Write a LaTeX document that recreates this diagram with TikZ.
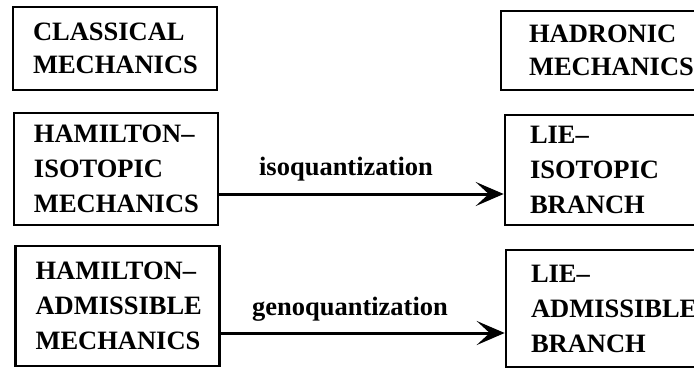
\documentclass[tikz,border=0pt]{standalone}
\usepackage{fontspec}
\setmainfont{Liberation Serif}
\usetikzlibrary{arrows.meta,calc}
\tikzset{
  box/.style={draw, line width=2.6pt, rectangle, align=left, inner ysep=0pt,
    font=\fontsize{26.5}{35}\selectfont\bfseries},
  lbox/.style={box, inner xsep=20pt, text width=164pt},
  rbox/.style={box, inner xsep=25pt, text width=170pt},
  lbl/.style={font=\fontsize{26.5}{32}\selectfont\bfseries, inner sep=0pt, anchor=base},
  arr/.style={line width=3pt, -{Stealth[length=28pt,width=24pt,inset=13pt]}}
}
\begin{document}
\begin{tikzpicture}[x=1pt,y=-1pt]
\useasboundingbox (0,0) rectangle (694,368);
\clip (0,0) rectangle (694,368);
% left column
\node[lbox, minimum height=83pt, font=\fontsize{26.5}{33}\selectfont\bfseries] (cm) at (115,48.5) {CLASSICAL\\MECHANICS};
\node[lbox, minimum height=112pt] (hi) at (116,169) {HAMILTON--\\ISOTOPIC\\MECHANICS};
\node[lbox, minimum height=120pt] (ha) at (117.5,306) {HAMILTON--\\ADMISSIBLE\\MECHANICS};
% right column (cut at the right edge)
\node[rbox, minimum height=79pt, inner xsep=28pt, text width=164pt, font=\fontsize{26.5}{33}\selectfont\bfseries] (hm) at (611,50.5) {HADRONIC\\MECHANICS};
\node[rbox, minimum height=110pt] (li) at (615,170) {LIE--\\ISOTOPIC\\BRANCH};
\node[rbox, minimum height=117pt] (la) at (616,308.5) {LIE--\\ADMISSIBLE\\BRANCH};
% arrows
\coordinate (isoy) at (0,194);
\coordinate (genoy) at (0,333);
\draw[arr] (hi.east |- isoy) -- (li.west |- isoy);
\draw[arr] (ha.east |- genoy) -- (la.west |- genoy);
\node[lbl] (isol) at (346,175) {isoquantization};
\node[lbl] (genol) at (350,315) {genoquantization};
\end{tikzpicture}
\end{document}
